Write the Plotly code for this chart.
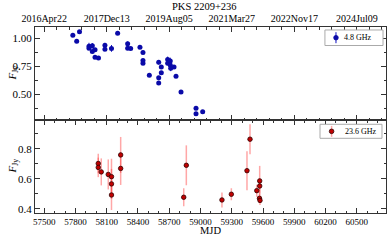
import plotly.graph_objects as go

# 4.8 GHz (top panel)
mjd_c = [57775, 57812, 57839, 57930, 57930, 57962, 57962, 57988, 57988, 58021,
         58083, 58083, 58146, 58205, 58301, 58301, 58330, 58419, 58448, 58448,
         58448, 58509, 58599, 58599, 58599, 58624, 58624, 58685, 58685, 58710,
         58710, 58714, 58746, 58765, 58813, 58957, 58957, 59021]
flux_c = [1.027, 0.973, 1.058, 0.929, 0.911, 0.932, 0.882, 0.896, 0.829, 0.823,
          0.938, 0.902, 0.909, 1.044, 0.951, 0.911, 0.909, 0.920, 0.873, 0.800,
          0.776, 0.669, 0.785, 0.648, 0.601, 0.743, 0.692, 0.811, 0.776, 0.796,
          0.761, 0.731, 0.743, 0.660, 0.519, 0.375, 0.326, 0.344]
err_c = [0.012, 0.012, 0.012, 0.030, 0.015, 0.025, 0.012, 0.015, 0.012, 0.012,
         0.020, 0.015, 0.030, 0.012, 0.020, 0.012, 0.012, 0.015, 0.015, 0.015,
         0.015, 0.012, 0.020, 0.015, 0.012, 0.015, 0.015, 0.025, 0.015, 0.030,
         0.025, 0.025, 0.015, 0.012, 0.012, 0.012, 0.012, 0.012]

# 23.6 GHz (bottom panel)
mjd_k = [58019, 58019, 58048, 58115, 58146, 58146, 58146, 58234, 58234, 58839,
         58864, 59206, 59296, 59446, 59475, 59540, 59568, 59568, 59566, 59571]
flux_k = [0.703, 0.677, 0.647, 0.630, 0.615, 0.567, 0.493, 0.760, 0.670, 0.478,
          0.691, 0.460, 0.498, 0.655, 0.865, 0.522, 0.587, 0.553, 0.471, 0.457]
err_k = [0.065, 0.065, 0.090, 0.100, 0.120, 0.100, 0.100, 0.120, 0.110, 0.060,
         0.133, 0.050, 0.040, 0.130, 0.100, 0.040, 0.100, 0.050, 0.030, 0.030]

date_ticks = [57500, 58100, 58700, 59300, 59900, 60500]
date_labels = ["2016Apr22", "2017Dec13", "2019Aug05", "2021Mar27", "2022Nov17", "2024Jul09"]
series_names = ["4.8 GHz", "23.6 GHz"]

x_range = [57412, 60780]
FONT = "Liberation Serif"
AX = "#333333"
BLUE = "#0a0aa8"
RED = "#c00000"
RED_ERR = "rgba(255,60,60,0.45)"

fig = go.Figure()
fig.add_trace(go.Scatter(
    x=mjd_c, y=flux_c, mode="markers", name=series_names[0], showlegend=False,
    error_y=dict(type="data", array=err_c, color="#1010c0", thickness=1, width=0),
    marker=dict(color=BLUE, size=5), xaxis="x2", yaxis="y2"))
fig.add_trace(go.Scatter(
    x=mjd_k, y=flux_k, mode="markers", name=series_names[1], showlegend=False,
    error_y=dict(type="data", array=err_k, color=RED_ERR, thickness=1.5, width=0),
    marker=dict(color=RED, size=4.5, line=dict(color="#300000", width=0.8)),
    xaxis="x", yaxis="y"))

common = dict(showline=True, linecolor=AX, linewidth=1, ticks="inside", tickcolor=AX,
              mirror="ticks", showgrid=False, zeroline=False, automargin=False)

# hand-drawn legends (box, symbol with error bar, label) in paper coordinates
shapes = []
annotations = []
legend_specs = [
    (0.826, 0.9915, 0.9005, 0.984, 0.8575, 0.9425, 0.8746, BLUE, "#1010c0", None, 1),
    (0.812, 0.9886, 0.4016, 0.4769, 0.845, 0.439, 0.8766, RED, RED_ERR, "#300000", 1.5),
]
for name, (bx0, bx1, by0, by1, sx, sy, tx, mc, ec, ml, ew) in zip(series_names, legend_specs):
    shapes.append(dict(type="rect", xref="paper", yref="paper", x0=bx0, x1=bx1, y0=by0, y1=by1,
                       line=dict(color="#aaaaaa", width=1), fillcolor="white", layer="above"))
    shapes.append(dict(type="line", xref="paper", yref="paper", xsizemode="pixel",
                       ysizemode="pixel", xanchor=sx, yanchor=sy, x0=0, x1=0, y0=-5.5, y1=5.5,
                       line=dict(color=ec, width=ew), layer="above"))
    shapes.append(dict(type="circle", xref="paper", yref="paper", xsizemode="pixel",
                       ysizemode="pixel", xanchor=sx, yanchor=sy, x0=-2.3, x1=2.3, y0=-2.3, y1=2.3,
                       fillcolor=mc, line=dict(color=ml if ml else mc, width=0.8), layer="above"))
    annotations.append(dict(text=name, xref="paper", yref="paper", x=tx, y=sy, xanchor="left",
                            yanchor="middle", showarrow=False, font=dict(size=8, family=FONT)))

annotations += [
    dict(text="PKS 2209+236", xref="paper", yref="paper", x=0.484, y=1.108,
         xanchor="center", yanchor="middle", showarrow=False, font=dict(size=10.5, family=FONT)),
    dict(text="MJD", xref="paper", yref="paper", x=0.501, y=-0.0914,
         xanchor="center", yanchor="middle", showarrow=False, font=dict(size=10.5, family=FONT)),
    dict(text="<i>F</i><sub>Jy</sub>", xref="paper", yref="paper", x=-0.0655, y=0.75,
         xanchor="center", yanchor="middle", textangle=-90, showarrow=False,
         font=dict(size=11, family=FONT)),
    dict(text="<i>F</i><sub>Jy</sub>", xref="paper", yref="paper", x=-0.0655, y=0.25,
         xanchor="center", yanchor="middle", textangle=-90, showarrow=False,
         font=dict(size=11, family=FONT)),
]

fig.update_layout(
    width=389, height=240,
    margin=dict(l=35, r=3, t=27, b=27),
    paper_bgcolor="white", plot_bgcolor="white",
    font=dict(family=FONT, color="black"),
    showlegend=False,
    hovermode=False,
    xaxis=dict(domain=[0, 1], anchor="y", range=x_range, tickmode="linear", tick0=57500,
               dtick=300, tickformat="d", ticklen=5, tickfont=dict(size=9),
               minor=dict(ticks="inside", tickmode="linear", tick0=57500, dtick=100,
                          ticklen=2.5, tickcolor=AX), **common),
    yaxis=dict(domain=[0, 0.5], anchor="x", range=[0.373, 0.993], tickmode="linear",
               tick0=0.4, dtick=0.2, tickformat=".1f", ticklen=5, tickfont=dict(size=11),
               minor=dict(ticks="inside", tickmode="linear", tick0=0.4, dtick=0.1,
                          ticklen=2.5, tickcolor=AX), **common),
    xaxis2=dict(domain=[0, 1], anchor="y2", range=x_range, side="top", tickmode="array",
                tickvals=date_ticks, ticktext=date_labels, ticklen=5, tickfont=dict(size=10),
                minor=dict(ticks="inside", tickmode="linear", tick0=57500, dtick=120,
                           ticklen=2.5, tickcolor=AX), **common),
    yaxis2=dict(domain=[0.5, 1], anchor="x2", range=[0.27, 1.10], tickmode="linear",
                tick0=0, dtick=0.25, tickformat=".2f", ticklen=5, tickfont=dict(size=11),
                minor=dict(ticks="inside", tickmode="linear", tick0=0, dtick=0.125,
                           ticklen=2.5, tickcolor=AX), **common),
    shapes=shapes,
    annotations=annotations,
)

fig.write_html("out.html", config={"displayModeBar": False},
               post_script="document.body.style.margin='0';")
